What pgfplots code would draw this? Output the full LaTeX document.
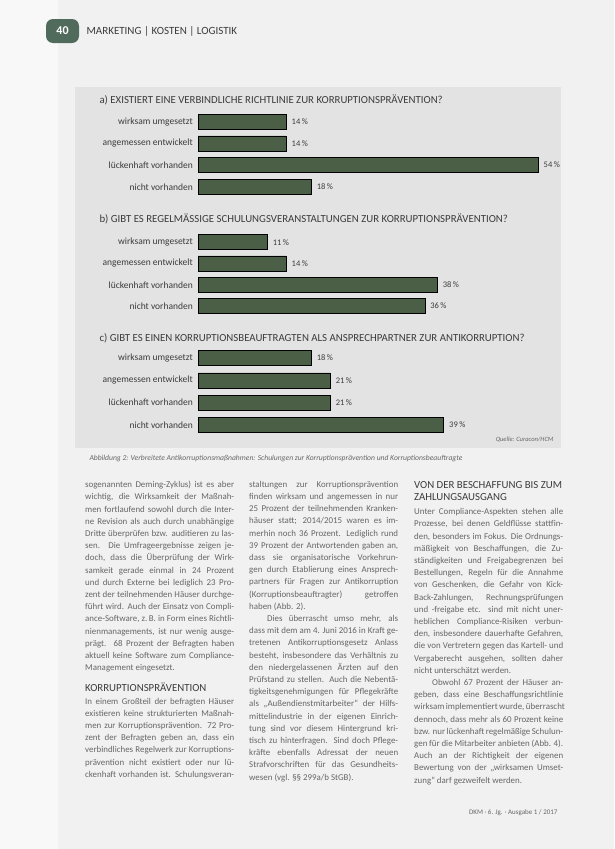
\documentclass[border=0pt]{standalone}
\usepackage{fontspec}
\setmainfont{Carlito}
\usepackage{pgfplots}
\pgfplotsset{compat=1.18}
\definecolor{pagebg}{HTML}{F1F1F1}
\definecolor{leftbg}{HTML}{F8F8F8}
\definecolor{boxbg}{HTML}{E3E3E3}
\definecolor{bargreen}{HTML}{4A5F45}
\definecolor{barglow}{HTML}{CDE7C6}
\definecolor{txt}{HTML}{666666}
\definecolor{dark}{HTML}{3C3C3C}
\definecolor{badge}{HTML}{506B5C}
\newlength\cw \setlength\cw{149pt}
\newcommand\J[1]{\hbox to\cw{#1}}
\newcommand\E[1]{\hbox{#1}}
\pgfplotsset{barax/.style={
  xbar, scale only axis, width=378pt, height=#1,
  xmin=0, xmax=60, ymin=-0.5, ymax=3.5, y dir=reverse,
  axis line style={draw=none}, xtick=\empty, ytick={0,1,2,3},
  yticklabels={wirksam umgesetzt, angemessen entwickelt, lückenhaft vorhanden, nicht vorhanden},
  major tick length=0pt,
  yticklabel style={font=\fontsize{9.5}{10}\selectfont, text=dark, inner sep=1pt, xshift=-4pt},
  bar width=15pt,
  point meta=x,
  /pgf/number format/assume math mode=true,
  nodes near coords={\pgfmathprintnumber{\pgfplotspointmeta}\,\%},
  nodes near coords style={font=\fontsize{8.5}{10}\selectfont, text=dark, anchor=west, xshift=2pt},
  cycle list={{fill=bargreen, draw=barglow, line width=1.2pt}},
  anchor=north west, clip=false,
}}
\begin{document}
\begin{tikzpicture}
\path[use as bounding box] (0pt,0pt) rectangle (614pt,-849pt);
\fill[pagebg] (0pt,0pt) rectangle (614pt,-849pt);
\fill[leftbg] (0pt,0pt) rectangle (58pt,-849pt);
% header
\fill[badge, rounded corners=7pt] (46pt,-19pt) rectangle (79pt,-43pt);
\node[text=white, font=\bfseries\fontsize{12}{12}\selectfont] at (62.5pt,-31pt) {40};
\node[anchor=west, text=dark, font=\fontsize{11}{12}\selectfont] at (83pt,-31.5pt) {MARKETING | KOSTEN | LOGISTIK};
% chart box
\fill[boxbg] (75pt,-87pt) rectangle (561pt,-448pt);
\node[anchor=west, text=dark, font=\fontsize{10.8}{12}\selectfont] at (96pt,-100pt) {a) EXISTIERT EINE VERBINDLICHE RICHTLINIE ZUR KORRUPTIONSPRÄVENTION?};
\node[anchor=west, text=dark, font=\fontsize{10.8}{12}\selectfont] at (96pt,-219pt) {b) GIBT ES REGELMÄSSIGE SCHULUNGSVERANSTALTUNGEN ZUR KORRUPTIONSPRÄVENTION?};
\node[anchor=west, text=dark, font=\fontsize{10.8}{12}\selectfont] at (96pt,-338pt) {c) GIBT ES EINEN KORRUPTIONSBEAUFTRAGTEN ALS ANSPRECHPARTNER ZUR ANTIKORRUPTION?};
\begin{axis}[barax=86.7pt, at={(198pt,-110.9pt)}]
\addplot coordinates {(14,0) (14,1) (54,2) (18,3)};
\end{axis}
\begin{axis}[barax=85.2pt, at={(198pt,-231.5pt)}]
\addplot coordinates {(11,0) (14,1) (38,2) (36,3)};
\end{axis}
\begin{axis}[barax=89.2pt, at={(198pt,-346.9pt)}]
\addplot coordinates {(18,0) (21,1) (21,2) (39,3)};
\end{axis}
\node[anchor=east, text=txt, font=\itshape\fontsize{6.5}{8}\selectfont] at (557pt,-440pt) {Quelle: Curacon/HCM};
\node[anchor=west, text=txt, font=\itshape\fontsize{7.6}{8}\selectfont] at (86pt,-459pt) {Abbildung 2: Verbreitete Antikorruptionsmaßnahmen: Schulungen zur Korruptionsprävention und Korruptionsbeauftragte};
% column 1
\node[anchor=north west, inner sep=0pt, text=txt] at (85pt,-481pt) {\vbox{\fontsize{8.9}{12.2}\selectfont
\J{sogenannten Deming-Zyklus) ist es aber}
\J{wichtig, die Wirksamkeit der Maßnah-}
\J{men fortlaufend sowohl durch die Inter-}
\J{ne Revision als auch durch unabhängige}
\J{Dritte überprüfen bzw. auditieren zu las-}
\J{sen. Die Umfrageergebnisse zeigen je-}
\J{doch, dass die Überprüfung der Wirk-}
\J{samkeit gerade einmal in 24 Prozent}
\J{und durch Externe bei lediglich 23 Pro-}
\J{zent der teilnehmenden Häuser durchge-}
\J{führt wird. Auch der Einsatz von Compli-}
\J{ance-Software, z.\,B. in Form eines Richtli-}
\J{nienmanagements, ist nur wenig ausge-}
\J{prägt. 68 Prozent der Befragten haben}
\J{aktuell keine Software zum Compliance-}
\E{Management eingesetzt.}
\vskip 9pt
\E{\color{dark}\fontsize{10.8}{12.2}\selectfont KORRUPTIONSPRÄVENTION}
\J{In einem Großteil der befragten Häuser}
\J{existieren keine strukturierten Maßnah-}
\J{men zur Korruptionsprävention. 72 Pro-}
\J{zent der Befragten geben an, dass ein}
\J{verbindliches Regelwerk zur Korruptions-}
\J{prävention nicht existiert oder nur lü-}
\J{ckenhaft vorhanden ist. Schulungsveran-}
}};
% column 2
\node[anchor=north west, inner sep=0pt, text=txt] at (249pt,-481pt) {\vbox{\fontsize{8.9}{12.2}\selectfont
\J{staltungen zur Korruptionsprävention}
\J{finden wirksam und angemessen in nur}
\J{25 Prozent der teilnehmenden Kranken-}
\J{häuser statt; 2014/2015 waren es im-}
\J{merhin noch 36 Prozent. Lediglich rund}
\J{39 Prozent der Antwortenden gaben an,}
\J{dass sie organisatorische Vorkehrun-}
\J{gen durch Etablierung eines Ansprech-}
\J{partners für Fragen zur Antikorruption}
\J{(Korruptionsbeauftragter) getroffen}
\E{haben (Abb. 2).}
\J{\hspace{18pt}Dies überrascht umso mehr, als}
\J{dass mit dem am 4. Juni 2016 in Kraft ge-}
\J{tretenen Antikorruptionsgesetz Anlass}
\J{besteht, insbesondere das Verhältnis zu}
\J{den niedergelassenen Ärzten auf den}
\J{Prüfstand zu stellen. Auch die Nebentä-}
\J{tigkeitsgenehmigungen für Pflegekräfte}
\J{als „Außendienstmitarbeiter“ der Hilfs-}
\J{mittelindustrie in der eigenen Einrich-}
\J{tung sind vor diesem Hintergrund kri-}
\J{tisch zu hinterfragen. Sind doch Pflege-}
\J{kräfte ebenfalls Adressat der neuen}
\J{Strafvorschriften für das Gesundheits-}
\E{wesen (vgl. §§ 299a/b StGB).}
}};
% column 3
\node[anchor=north west, inner sep=0pt, text=txt] at (414pt,-481pt) {\vbox{\fontsize{8.9}{12.2}\selectfont
\E{\color{dark}\fontsize{10.8}{12.2}\selectfont VON DER BESCHAFFUNG BIS ZUM}
\E{\color{dark}\fontsize{10.8}{12.2}\selectfont ZAHLUNGSAUSGANG}
\vskip 2pt
\J{Unter Compliance-Aspekten stehen alle}
\J{Prozesse, bei denen Geldflüsse stattfin-}
\J{den, besonders im Fokus. Die Ordnungs-}
\J{mäßigkeit von Beschaffungen, die Zu-}
\J{ständigkeiten und Freigabegrenzen bei}
\J{Bestellungen, Regeln für die Annahme}
\J{von Geschenken, die Gefahr von Kick-}
\J{Back-Zahlungen, Rechnungsprüfungen}
\J{und -freigabe etc. sind mit nicht uner-}
\J{heblichen Compliance-Risiken verbun-}
\J{den, insbesondere dauerhafte Gefahren,}
\J{die von Vertretern gegen das Kartell- und}
\J{Vergaberecht ausgehen, sollten daher}
\E{nicht unterschätzt werden.}
\J{\hspace{18pt}Obwohl 67 Prozent der Häuser an-}
\J{geben, dass eine Beschaffungsrichtlinie}
\J{wirksam implementiert wurde, überrascht}
\J{dennoch, dass mehr als 60 Prozent keine}
\J{bzw. nur lückenhaft regelmäßige Schulun-}
\J{gen für die Mitarbeiter anbieten (Abb. 4).}
\J{Auch an der Richtigkeit der eigenen}
\J{Bewertung von der „wirksamen Umset-}
\E{zung“ darf gezweifelt werden.}
}};
\node[anchor=east, text=txt, font=\fontsize{7}{8}\selectfont] at (561pt,-813pt) {DKM · 6. Jg. · Ausgabe 1 / 2017};
\end{tikzpicture}
\end{document}
